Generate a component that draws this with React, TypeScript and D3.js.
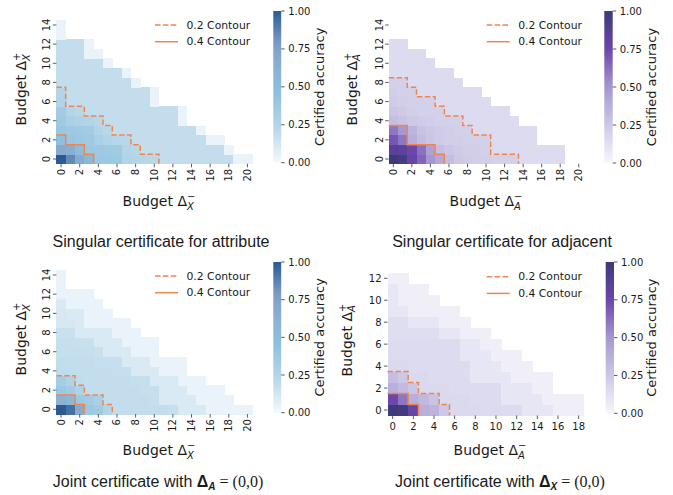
import React from "react";
import * as d3 from "d3";

// budget categories (cell index = budget value)
const budget0to20 = [0, 1, 2, 3, 4, 5, 6, 7, 8, 9, 10, 11, 12, 13, 14, 15, 16, 17, 18, 19, 20];
const budget0to14 = [0, 1, 2, 3, 4, 5, 6, 7, 8, 9, 10, 11, 12, 13, 14];
const budget0to18 = [0, 1, 2, 3, 4, 5, 6, 7, 8, 9, 10, 11, 12, 13, 14, 15, 16, 17, 18];
const budget0to12 = [0, 1, 2, 3, 4, 5, 6, 7, 8, 9, 10, 11, 12];

const ticks20 = [0, 2, 4, 6, 8, 10, 12, 14, 16, 18, 20];
const ticks18 = [0, 2, 4, 6, 8, 10, 12, 14, 16, 18];
const ticks14 = [0, 2, 4, 6, 8, 10, 12, 14];
const ticks12 = [0, 2, 4, 6, 8, 10, 12];

const cbarTicks = [0, 0.25, 0.5, 0.75, 1];
const cbarTickLabels = ["0.00", "0.25", "0.50", "0.75", "1.00"];
const contourLevels = [0.2, 0.4];
const legendLabels = ["0.2 Contour", "0.4 Contour"];

// certified accuracy, row i = budget Δ+ i, entry j = budget Δ- j
const singularAttr: number[][] = [
  [1.0, 0.85, 0.68, 0.55, 0.38, 0.38, 0.37, 0.26, 0.25, 0.24, 0.23, 0.18, 0.18, 0.18, 0.18, 0.18, 0.18, 0.18, 0.18, 0.04, 0.04],
  [0.68, 0.64, 0.52, 0.38, 0.37, 0.36, 0.35, 0.25, 0.23, 0.18, 0.18, 0.18, 0.18, 0.18, 0.18, 0.18, 0.18, 0.18, 0.04],
  [0.45, 0.39, 0.38, 0.37, 0.3, 0.26, 0.24, 0.23, 0.18, 0.18, 0.18, 0.18, 0.18, 0.18, 0.18, 0.18, 0.04, 0.04],
  [0.39, 0.37, 0.36, 0.34, 0.26, 0.23, 0.18, 0.18, 0.18, 0.18, 0.18, 0.18, 0.18, 0.18, 0.18, 0.04],
  [0.36, 0.3, 0.28, 0.26, 0.23, 0.18, 0.18, 0.18, 0.18, 0.18, 0.18, 0.18, 0.18, 0.04],
  [0.34, 0.25, 0.23, 0.18, 0.18, 0.18, 0.18, 0.18, 0.18, 0.18, 0.18, 0.18, 0.18, 0.04],
  [0.26, 0.18, 0.18, 0.18, 0.18, 0.18, 0.18, 0.18, 0.18, 0.18, 0.04],
  [0.25, 0.18, 0.18, 0.18, 0.18, 0.18, 0.18, 0.18, 0.18, 0.18, 0.04],
  [0.18, 0.18, 0.18, 0.18, 0.18, 0.18, 0.18, 0.18, 0.04],
  [0.18, 0.18, 0.18, 0.18, 0.18, 0.18, 0.18, 0.04],
  [0.18, 0.18, 0.18, 0.18, 0.18, 0.04],
  [0.18, 0.18, 0.18, 0.04, 0.04],
  [0.18, 0.18, 0.18, 0.04],
  [0.04],
  [0.04],
];

const singularAdj: number[][] = [
  [1.0, 0.95, 0.78, 0.65, 0.5, 0.41, 0.3, 0.25, 0.23, 0.22, 0.22, 0.21, 0.21, 0.21, 0.15, 0.15, 0.15, 0.15, 0.15],
  [0.85, 0.83, 0.75, 0.62, 0.45, 0.3, 0.26, 0.24, 0.22, 0.22, 0.21, 0.15, 0.15, 0.15, 0.15, 0.15, 0.15, 0.15, 0.15],
  [0.7, 0.6, 0.38, 0.3, 0.26, 0.24, 0.22, 0.22, 0.21, 0.21, 0.21, 0.15, 0.15, 0.15, 0.15, 0.15],
  [0.6, 0.5, 0.35, 0.28, 0.25, 0.23, 0.22, 0.21, 0.21, 0.15, 0.15, 0.15, 0.15, 0.15, 0.15, 0.15],
  [0.3, 0.27, 0.25, 0.23, 0.22, 0.21, 0.21, 0.21, 0.15, 0.15, 0.15, 0.15, 0.15, 0.15],
  [0.26, 0.24, 0.22, 0.21, 0.21, 0.21, 0.15, 0.15, 0.15, 0.15, 0.15, 0.15, 0.15],
  [0.23, 0.22, 0.21, 0.21, 0.21, 0.15, 0.15, 0.15, 0.15, 0.15, 0.15],
  [0.22, 0.21, 0.21, 0.15, 0.15, 0.15, 0.15, 0.15, 0.15, 0.15],
  [0.21, 0.21, 0.15, 0.15, 0.15, 0.15, 0.15, 0.15],
  [0.15, 0.15, 0.15, 0.15, 0.15, 0.15, 0.15],
  [0.15, 0.15, 0.15, 0.15, 0.15],
  [0.15, 0.15, 0.15, 0.15],
  [0.15, 0.15],
];

const jointAttr: number[][] = [
  [1.0, 0.93, 0.68, 0.38, 0.35, 0.25, 0.18, 0.18, 0.18, 0.18, 0.18, 0.18, 0.17, 0.1, 0.1, 0.1, 0.04, 0.04, 0.04, 0.04, 0.04],
  [0.62, 0.55, 0.38, 0.34, 0.3, 0.18, 0.18, 0.18, 0.18, 0.18, 0.17, 0.1, 0.1, 0.1, 0.1, 0.04, 0.04, 0.04, 0.04],
  [0.38, 0.34, 0.28, 0.18, 0.18, 0.18, 0.18, 0.18, 0.18, 0.17, 0.17, 0.1, 0.1, 0.1, 0.04, 0.04, 0.04, 0.04],
  [0.33, 0.27, 0.19, 0.18, 0.18, 0.18, 0.18, 0.18, 0.17, 0.17, 0.1, 0.1, 0.1, 0.04, 0.04, 0.04],
  [0.19, 0.19, 0.18, 0.18, 0.18, 0.18, 0.17, 0.17, 0.1, 0.1, 0.1, 0.04, 0.04, 0.04],
  [0.19, 0.18, 0.18, 0.18, 0.17, 0.17, 0.17, 0.1, 0.1, 0.1, 0.04, 0.04, 0.04, 0.04],
  [0.17, 0.17, 0.17, 0.17, 0.16, 0.1, 0.1, 0.1, 0.04, 0.04, 0.04],
  [0.17, 0.17, 0.16, 0.16, 0.1, 0.1, 0.1, 0.04, 0.04, 0.04, 0.04],
  [0.16, 0.16, 0.1, 0.1, 0.1, 0.1, 0.04, 0.04, 0.04],
  [0.11, 0.11, 0.1, 0.04, 0.04, 0.04, 0.04, 0.04],
  [0.11, 0.1, 0.1, 0.04, 0.04, 0.04],
  [0.1, 0.04, 0.04, 0.04, 0.04],
  [0.04, 0.04, 0.04, 0.04],
  [0.04],
  [0.04],
];

const jointAdj: number[][] = [
  [1.0, 0.97, 0.78, 0.38, 0.35, 0.25, 0.16, 0.16, 0.16, 0.15, 0.15, 0.15, 0.15, 0.09, 0.09, 0.09, 0.04, 0.04, 0.04],
  [0.75, 0.6, 0.38, 0.33, 0.27, 0.16, 0.16, 0.16, 0.15, 0.15, 0.15, 0.09, 0.09, 0.09, 0.09, 0.04, 0.04, 0.04, 0.04],
  [0.38, 0.32, 0.26, 0.16, 0.16, 0.16, 0.15, 0.15, 0.15, 0.15, 0.15, 0.09, 0.09, 0.09, 0.04, 0.04],
  [0.3, 0.25, 0.16, 0.16, 0.15, 0.15, 0.15, 0.15, 0.09, 0.09, 0.09, 0.09, 0.04, 0.04, 0.04, 0.04],
  [0.16, 0.16, 0.15, 0.15, 0.15, 0.15, 0.15, 0.15, 0.09, 0.09, 0.09, 0.04, 0.04, 0.04],
  [0.15, 0.15, 0.15, 0.15, 0.15, 0.15, 0.15, 0.09, 0.09, 0.09, 0.04, 0.04, 0.04],
  [0.15, 0.15, 0.15, 0.15, 0.15, 0.15, 0.15, 0.09, 0.09, 0.04, 0.04],
  [0.14, 0.14, 0.14, 0.14, 0.14, 0.09, 0.09, 0.04, 0.04, 0.04],
  [0.14, 0.14, 0.09, 0.09, 0.09, 0.04, 0.04, 0.04],
  [0.09, 0.09, 0.04, 0.04, 0.04, 0.04, 0.04],
  [0.09, 0.04, 0.04, 0.04, 0.04],
  [0.09, 0.04, 0.04, 0.04],
  [0.04, 0.04],
];

const blues = d3
  .scaleLinear<string>()
  .domain([0, 0.2, 0.45, 0.6, 0.78, 1])
  .range(["#f5f9fc", "#bedaeb", "#8dc1de", "#8cb4d3", "#7f9fc4", "#2b5a96"])
  .clamp(true);

const purples = d3
  .scaleLinear<string>()
  .domain([0, 0.15, 0.25, 0.5, 0.75, 1])
  .range(["#f7f6fb", "#dddbef", "#cdc8e6", "#a597d0", "#6c46aa", "#3d3a7a"])
  .clamp(true);

const ORANGE = "#ef8651";
const TXT = "#1a1a1a";
const FONT = "DejaVu Sans";

const stairPath = (grid: number[][], level: number, x: any, y: any) => {
  const ext = grid.map(row => {
    let n = 0;
    while (n < row.length && row[n] >= level) n++;
    return n;
  });
  let top = ext.length - 1;
  while (top >= 0 && ext[top] === 0) top--;
  if (top < 0) return "";
  const bw = x.bandwidth(), bh = y.bandwidth();
  const pts: [number, number][] = [[x(0), y(top)]];
  for (let r = top; r >= 0; r--) {
    const xr = x(ext[r] - 1) + bw;
    pts.push([xr, y(r)]);
    pts.push([xr, y(r) + bh]);
  }
  return d3.line()(pts) || "";
};

const BudgetLabel = ({ x, y, rotate, sub, sign }: any) => (
  <text
    transform={rotate ? `translate(${x + 5},${y}) rotate(-90)` : `translate(${x},${y + 5})`}
    textAnchor="middle"
    fontFamily={FONT}
    fontSize={14}
    fill={TXT}
  >
    Budget Δ
    <tspan fontSize={10} dy={-6}>{sign}</tspan>
    <tspan fontSize={10} fontStyle="italic" dx={-8.4} dy={9.5}>{sub}</tspan>
  </text>
);

const Panel = ({ s }: { s: any }) => {
  const x = d3.scaleBand<number>().domain(s.cols).range([s.x0, s.x1]);
  const y = d3.scaleBand<number>().domain(s.rows).range([s.y1, s.y0]);
  const bw = x.bandwidth(), bh = y.bandwidth();
  const cb = d3.scaleLinear().domain([0, 1]).range([s.cbY1, s.cbY0]);
  const gradStops = d3.range(0, 1.0001, 0.05);

  return (
    <g>
      <defs>
        <linearGradient id={s.id} x1="0" y1="1" x2="0" y2="0">
          {gradStops.map(t => (
            <stop key={t} offset={t} stopColor={s.cmap(t)} />
          ))}
        </linearGradient>
      </defs>

      {s.grid.map((row: number[], r: number) =>
        row.map((v, c) => (
          <rect
            key={r + "-" + c}
            x={x(c)}
            y={y(r)}
            width={bw + 0.4}
            height={bh + 0.4}
            fill={s.cmap(v)}
            shapeRendering="crispEdges"
          />
        ))
      )}

      {contourLevels.map((lv, i) => (
        <path
          key={"ct" + i}
          d={stairPath(s.grid, lv, x, y)}
          fill="none"
          stroke={ORANGE}
          strokeWidth={1.5}
          strokeDasharray={i === 0 ? "5.5,2.4" : undefined}
        />
      ))}

      {/* x ticks */}
      {s.xTicks.map((t: number) => {
        const tx = (x(t) as number) + bw / 2;
        return (
          <g key={"xt" + t}>
            <line x1={tx} x2={tx} y1={s.y1} y2={s.y1 + 3.5} stroke="#333" strokeWidth={0.8} />
            {s.rotated ? (
              <text
                transform={`translate(${tx},${s.y1 + 5}) rotate(-90)`}
                textAnchor="end"
                dominantBaseline="central"
                fontFamily={FONT}
                fontSize={10}
                fill={TXT}
              >
                {t}
              </text>
            ) : (
              <text x={tx} y={s.y1 + 14.5} textAnchor="middle" fontFamily={FONT} fontSize={10} fill={TXT}>
                {t}
              </text>
            )}
          </g>
        );
      })}

      {/* y ticks */}
      {s.yTicks.map((t: number) => {
        const ty = (y(t) as number) + bh / 2;
        return (
          <g key={"yt" + t}>
            <line x1={s.x0 - 3.5} x2={s.x0} y1={ty} y2={ty} stroke="#333" strokeWidth={0.8} />
            {s.rotated ? (
              <text
                transform={`translate(${s.x0 - 6},${ty}) rotate(-90)`}
                textAnchor="middle"
                fontFamily={FONT}
                fontSize={10}
                fill={TXT}
              >
                {t}
              </text>
            ) : (
              <text
                x={s.x0 - 6}
                y={ty}
                textAnchor="end"
                dominantBaseline="central"
                fontFamily={FONT}
                fontSize={10}
                fill={TXT}
              >
                {t}
              </text>
            )}
          </g>
        );
      })}

      <BudgetLabel x={s.xLab[0]} y={s.xLab[1]} sub={s.sub} sign="−" />
      <BudgetLabel x={s.yLab[0]} y={s.yLab[1]} sub={s.sub} sign="+" rotate />

      {/* colorbar */}
      <rect x={s.cbX} y={s.cbY0} width={s.cbW} height={s.cbY1 - s.cbY0} fill={`url(#${s.id})`} />
      {cbarTicks.map((t, i) => (
        <g key={"cb" + i}>
          <line
            x1={s.cbX + s.cbW}
            x2={s.cbX + s.cbW + 3.5}
            y1={cb(t)}
            y2={cb(t)}
            stroke="#333"
            strokeWidth={0.8}
          />
          <text
            x={s.cbX + s.cbW + 7}
            y={cb(t)}
            dominantBaseline="central"
            fontFamily={FONT}
            fontSize={10}
            fill={TXT}
          >
            {cbarTickLabels[i]}
          </text>
        </g>
      ))}
      <text
        transform={`translate(${s.cbLabX},${(s.cbY0 + s.cbY1) / 2}) rotate(-90)`}
        textAnchor="middle"
        dominantBaseline="central"
        fontFamily={FONT}
        fontSize={13}
        fill={TXT}
      >
        Certified accuracy
      </text>

      {/* legend */}
      {legendLabels.map((lab, i) => (
        <g key={"lg" + i} transform={`translate(${s.legX},${s.legY + i * 16.7})`}>
          <line
            x1={0}
            x2={23}
            y1={0}
            y2={0}
            stroke={ORANGE}
            strokeWidth={1.5}
            strokeDasharray={i === 0 ? "5.5,2.4" : undefined}
          />
          <text x={31.5} y={0} dominantBaseline="central" fontFamily={FONT} fontSize={10.8} fill={TXT}>
            {lab}
          </text>
        </g>
      ))}
    </g>
  );
};

const panels = [
  {
    id: "g1", grid: singularAttr, cols: budget0to20, rows: budget0to14, xTicks: ticks20, yTicks: ticks14,
    x0: 56.4, x1: 252.1, y0: 20.2, y1: 163.8, cbX: 273.3, cbW: 7.9, cbY0: 11, cbY1: 162.7,
    legX: 155, legY: 25, cmap: blues, sub: "X", rotated: true,
    xLab: [159, 201], yLab: [21, 89], cbLabX: 319.3,
  },
  {
    id: "g2", grid: singularAdj, cols: budget0to20, rows: budget0to14, xTicks: ticks20, yTicks: ticks14,
    x0: 388.7, x1: 583.4, y0: 20.2, y1: 163.8, cbX: 604.3, cbW: 8.4, cbY0: 11, cbY1: 163,
    legX: 486.7, legY: 25, cmap: purples, sub: "A", rotated: true,
    xLab: [486, 201], yLab: [351.7, 89], cbLabX: 651,
  },
  {
    id: "g3", grid: jointAttr, cols: budget0to20, rows: budget0to14, xTicks: ticks20, yTicks: ticks14,
    x0: 56.4, x1: 252.1, y0: 270.2, y1: 414.1, cbX: 273.3, cbW: 7.9, cbY0: 262, cbY1: 412.7,
    legX: 155, legY: 276, cmap: blues, sub: "X", rotated: true,
    xLab: [159, 450], yLab: [21, 339], cbLabX: 319.3,
  },
  {
    id: "g4", grid: jointAdj, cols: budget0to18, rows: budget0to12, xTicks: ticks18, yTicks: ticks12,
    x0: 387.5, x1: 583.8, y0: 272.8, y1: 415.5, cbX: 605.7, cbW: 8.3, cbY0: 262, cbY1: 413.3,
    legX: 486.7, legY: 276.7, cmap: purples, sub: "A", rotated: false,
    xLab: [490, 450], yLab: [346.7, 340], cbLabX: 651,
  },
];

const TITLE_FONT = "Liberation Sans, Arial, sans-serif";

export default function App() {
  return (
    <svg
      width={673}
      height={495}
      style={{ position: "absolute", left: 0, top: 0, background: "#fff" }}
    >
      <rect width={673} height={495} fill="#fff" />
      {panels.map(p => (
        <Panel key={p.id} s={p} />
      ))}

      <text x={161} y={247} textAnchor="middle" fontFamily={TITLE_FONT} fontSize={16} fill={TXT}>
        Singular certificate for attribute
      </text>
      <text x={502} y={247} textAnchor="middle" fontFamily={TITLE_FONT} fontSize={16} fill={TXT}>
        Singular certificate for adjacent
      </text>
      <text x={158} y={487} textAnchor="middle" fontFamily={TITLE_FONT} fontSize={16} fill={TXT}>
        Joint certificate with{" "}
        <tspan fontWeight="bold">Δ</tspan>
        <tspan fontWeight="bold" fontStyle="italic" fontSize={10} dy={3}>A</tspan>
        <tspan fontFamily="Liberation Serif, serif" dy={-3}> = (0,0)</tspan>
      </text>
      <text x={500} y={487} textAnchor="middle" fontFamily={TITLE_FONT} fontSize={16} fill={TXT}>
        Joint certificate with{" "}
        <tspan fontWeight="bold">Δ</tspan>
        <tspan fontWeight="bold" fontStyle="italic" fontSize={10} dy={3}>X</tspan>
        <tspan fontFamily="Liberation Serif, serif" dy={-3}> = (0,0)</tspan>
      </text>
    </svg>
  );
}
